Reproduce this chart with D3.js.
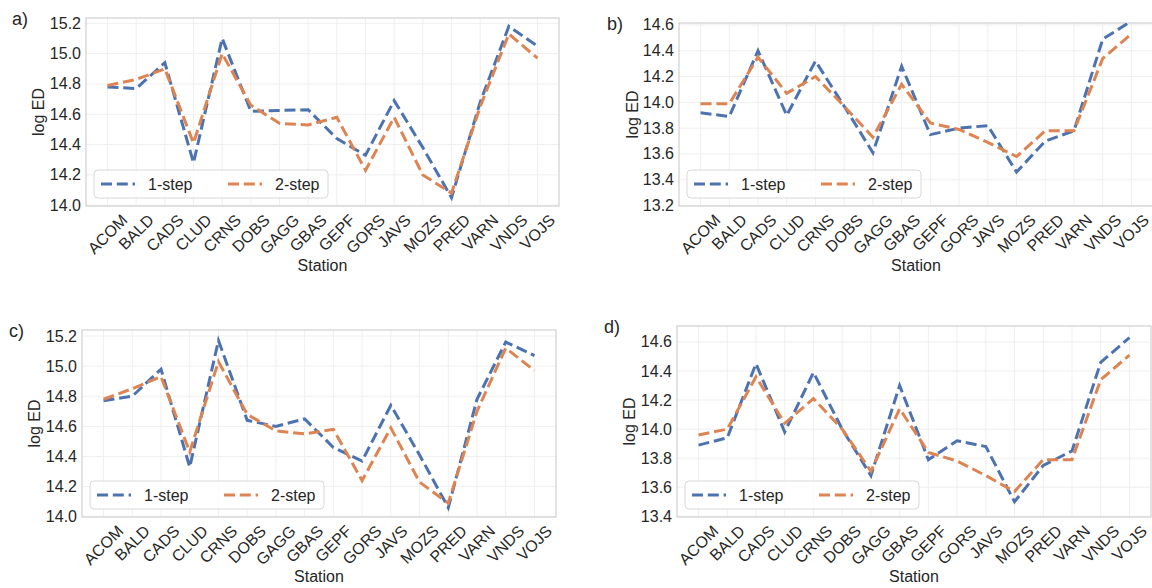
<!DOCTYPE html>
<html>
<head>
<meta charset="utf-8">
<script src="https://cdn.jsdelivr.net/npm/d3@7"></script>
<style>
  body { margin: 0; background: #fff; }
  text { font-family: "Liberation Sans", Arial, sans-serif; fill: #262626; }
</style>
</head>
<body>
<div id="chart"></div>
<script>
// stations on the x axis (same for all four panels)
const stations = ["ACOM", "BALD", "CADS", "CLUD", "CRNS", "DOBS", "GAGG", "GBAS",
  "GEPF", "GORS", "JAVS", "MOZS", "PRED", "VARN", "VNDS", "VOJS"];

// log ED values
const a1step = [14.78, 14.77, 14.94, 14.28, 15.10, 14.62, 14.625, 14.63, 14.44, 14.33, 14.69, 14.38, 14.05, 14.68, 15.18, 15.05];
const a2step = [14.79, 14.83, 14.90, 14.41, 15.00, 14.66, 14.54, 14.53, 14.58, 14.23, 14.58, 14.20, 14.08, 14.65, 15.13, 14.97];
const b1step = [13.92, 13.89, 14.40, 13.90, 14.32, 13.97, 13.61, 14.28, 13.75, 13.80, 13.82, 13.46, 13.70, 13.78, 14.49, 14.63];
const b2step = [13.99, 13.99, 14.35, 14.07, 14.20, 13.97, 13.73, 14.14, 13.84, 13.79, 13.69, 13.58, 13.78, 13.78, 14.34, 14.53];
const c1step = [14.77, 14.80, 14.98, 14.33, 15.17, 14.64, 14.60, 14.65, 14.46, 14.37, 14.74, 14.41, 14.06, 14.78, 15.16, 15.07];
const c2step = [14.78, 14.85, 14.93, 14.43, 15.03, 14.68, 14.57, 14.55, 14.58, 14.24, 14.59, 14.23, 14.09, 14.70, 15.12, 14.97];
const d1step = [13.89, 13.94, 14.45, 13.98, 14.39, 14.00, 13.68, 14.30, 13.79, 13.92, 13.88, 13.50, 13.75, 13.85, 14.46, 14.63];
const d2step = [13.96, 14.00, 14.36, 14.04, 14.21, 14.00, 13.71, 14.14, 13.84, 13.78, 13.68, 13.57, 13.79, 13.79, 14.34, 14.51];

// y tick labels
const ticksAC = [14.0, 14.2, 14.4, 14.6, 14.8, 15.0, 15.2];
const ticksB = [13.2, 13.4, 13.6, 13.8, 14.0, 14.2, 14.4, 14.6];
const ticksD = [13.4, 13.6, 13.8, 14.0, 14.2, 14.4, 14.6];

const seriesNames = ["1-step", "2-step"];
const colors = ["#4c72b0", "#dd8452"];
const dash = "11,4.8";

const panels = [
  { label: "a)", s1: a1step, s2: a2step, ticks: ticksAC, domain: [13.995, 15.235],
    left: 86, top: 18, width: 473, height: 188, letterX: 12, ylabX: 38 },
  { label: "b)", s1: b1step, s2: b2step, ticks: ticksB, domain: [13.197, 14.615],
    left: 679, top: 23, width: 474, height: 183, letterX: 607, ylabX: 632 },
  { label: "c)", s1: c1step, s2: c2step, ticks: ticksAC, domain: [13.998, 15.24],
    left: 82, top: 330, width: 474, height: 187, letterX: 9, ylabX: 34 },
  { label: "d)", s1: d1step, s2: d2step, ticks: ticksD, domain: [13.395, 14.71],
    left: 677, top: 326, width: 474, height: 191, letterX: 604, ylabX: 629 },
];

const W = 1152, H = 588;
const svg = d3.select("#chart").append("svg")
  .attr("width", W).attr("height", H);

panels.forEach((p, pi) => {
  const x = d3.scalePoint().domain(stations)
    .range([p.left, p.left + p.width]).padding(0.75);
  const y = d3.scaleLinear().domain(p.domain)
    .range([p.top + p.height, p.top]);

  const g = svg.append("g");

  // grid
  g.selectAll(".vgrid").data(stations).join("line")
    .attr("x1", d => x(d)).attr("x2", d => x(d))
    .attr("y1", p.top).attr("y2", p.top + p.height)
    .attr("stroke", "#efefef").attr("stroke-width", 1);
  g.selectAll(".hgrid").data(p.ticks).join("line")
    .attr("x1", p.left).attr("x2", p.left + p.width)
    .attr("y1", d => y(d)).attr("y2", d => y(d))
    .attr("stroke", "#efefef").attr("stroke-width", 1);

  // frame
  g.append("rect")
    .attr("x", p.left).attr("y", p.top)
    .attr("width", p.width).attr("height", p.height)
    .attr("fill", "none").attr("stroke", "#d0d0d0").attr("stroke-width", 1.2);

  // clip
  const clipId = "clip" + pi;
  svg.append("clipPath").attr("id", clipId).append("rect")
    .attr("x", p.left).attr("y", p.top)
    .attr("width", p.width).attr("height", p.height);

  const line = d3.line().x((d, i) => x(stations[i])).y(d => y(d));
  [p.s1, p.s2].forEach((s, si) => {
    g.append("path")
      .datum(s)
      .attr("clip-path", `url(#${clipId})`)
      .attr("d", line)
      .attr("fill", "none")
      .attr("stroke", colors[si])
      .attr("stroke-width", 3)
      .attr("stroke-dasharray", dash);
  });

  // y tick labels
  g.selectAll(".ytick").data(p.ticks).join("text")
    .attr("x", p.left - 5).attr("y", d => y(d))
    .attr("text-anchor", "end").attr("dominant-baseline", "central")
    .attr("font-size", 16)
    .text(d => d3.format(".1f")(d));

  // x tick labels, rotated 45 deg and centred on tick
  const bottom = p.top + p.height;
  g.selectAll(".xtick").data(stations).join("text")
    .attr("font-size", 16)
    .attr("text-anchor", "middle")
    .attr("dominant-baseline", "central")
    .text(d => d)
    .each(function (d) {
      const w = this.getComputedTextLength();
      const cy = bottom + 7 + (w + 12) * 0.3536;
      d3.select(this).attr("x", x(d)).attr("y", cy)
        .attr("transform", `rotate(-45,${x(d)},${cy})`);
    });

  // axis titles
  g.append("text")
    .attr("x", p.left + p.width / 2).attr("y", bottom + 65)
    .attr("text-anchor", "middle").attr("font-size", 16)
    .text("Station");
  g.append("text")
    .attr("transform", `translate(${p.ylabX},${p.top + p.height / 2}) rotate(-90)`)
    .attr("text-anchor", "middle").attr("dominant-baseline", "central")
    .attr("font-size", 16)
    .text("log ED");

  // panel letter
  g.append("text")
    .attr("x", p.letterX).attr("y", p.top + 7)
    .attr("font-size", 18)
    .text(p.label);

  // legend
  const lx = p.left + 8, ly = bottom - 36;
  const lg = g.append("g").attr("transform", `translate(${lx},${ly})`);
  lg.append("rect")
    .attr("width", 234).attr("height", 28).attr("rx", 4)
    .attr("fill", "#fff").attr("fill-opacity", 0.8)
    .attr("stroke", "#d8d8d8").attr("stroke-width", 1);
  seriesNames.forEach((name, si) => {
    const ox = si === 0 ? 7 : 134;
    lg.append("line")
      .attr("x1", ox).attr("x2", ox + 34)
      .attr("y1", 14).attr("y2", 14)
      .attr("stroke", colors[si]).attr("stroke-width", 3)
      .attr("stroke-dasharray", dash);
    lg.append("text")
      .attr("x", ox + 47).attr("y", 14)
      .attr("dominant-baseline", "central")
      .attr("font-size", 16)
      .text(name);
  });
});
</script>
</body>
</html>
